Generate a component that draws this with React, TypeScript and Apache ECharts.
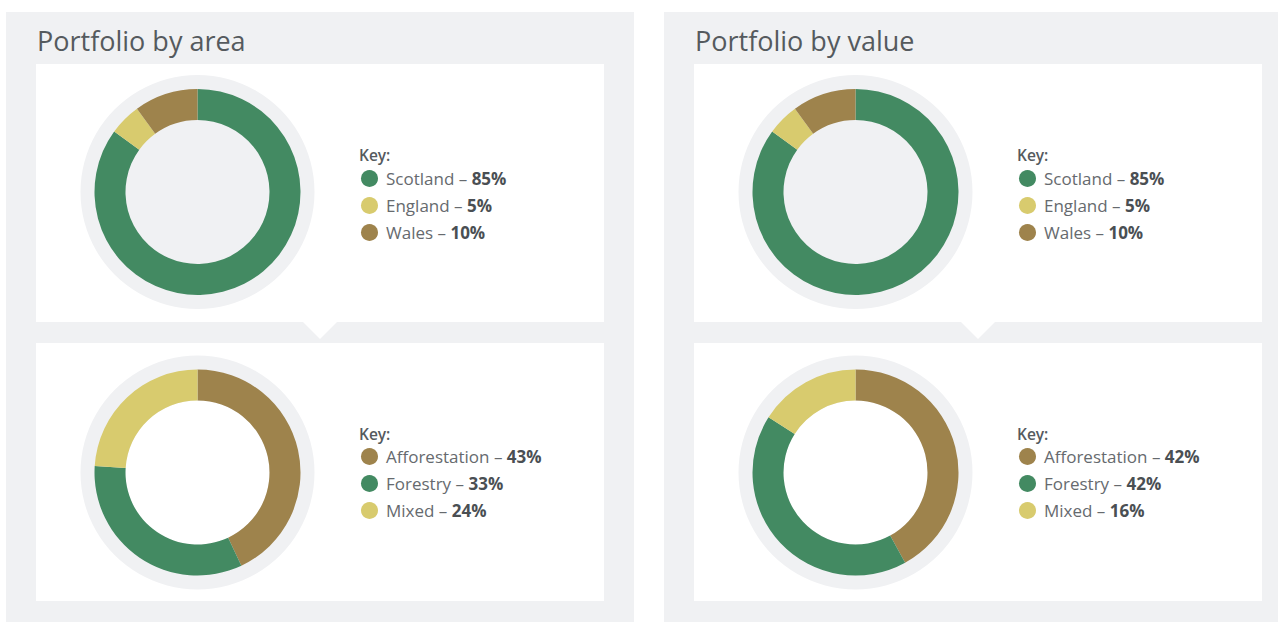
import React, { useEffect, useRef } from "react";
import * as echarts from "echarts";

const regionNames = ["Scotland", "England", "Wales"];
const areaRegionValues = [85, 5, 10];
const valueRegionValues = [85, 5, 10];
const typeNames = ["Afforestation", "Forestry", "Mixed"];
const areaTypeValues = [43, 33, 24];
const valueTypeValues = [42, 42, 16];
const panelTitles = ["Portfolio by area", "Portfolio by value"];

const GREEN = "#438a62";
const YELLOW = "#d8cb6e";
const BROWN = "#9e834c";
const GRAY = "#f0f1f3";
const regionColors = [GREEN, YELLOW, BROWN];
const typeColors = [BROWN, GREEN, YELLOW];
const FONT = "'Open Sans', 'Noto Sans', sans-serif";

export default function App() {
  const ref = useRef<HTMLDivElement>(null);
  useEffect(() => {
    if (!ref.current) return;
    const chart = echarts.init(ref.current, null, { renderer: "svg" });

    const panels = [
      { x0: 0, regionVals: areaRegionValues, typeVals: areaTypeValues },
      { x0: 658, regionVals: valueRegionValues, typeVals: valueTypeValues },
    ];

    const graphic: any[] = [];
    const series: any[] = [];
    const legends: any[] = [];

    panels.forEach((p, i) => {
      const ox = p.x0;
      graphic.push({
        type: "rect",
        shape: { x: i === 0 ? 6 : 664, y: 12, width: i === 0 ? 628 : 614, height: 610 },
        style: { fill: GRAY },
      });
      graphic.push({
        type: "rect",
        shape: { x: 36 + ox, y: 64, width: 568, height: 258 },
        style: { fill: "#ffffff" },
      });
      graphic.push({
        type: "polygon",
        shape: { points: [[302 + ox, 321], [338 + ox, 321], [320 + ox, 339]] },
        style: { fill: "#ffffff" },
      });
      graphic.push({
        type: "rect",
        shape: { x: 36 + ox, y: 343, width: 568, height: 258 },
        style: { fill: "#ffffff" },
      });
      graphic.push({
        type: "text",
        x: 37 + ox,
        y: 40,
        style: {
          text: panelTitles[i],
          font: `400 27px ${FONT}`,
          fill: "#555a5e",
          verticalAlign: "middle",
        },
      });
      [155, 434].forEach((ky) => {
        graphic.push({
          type: "text",
          x: 359 + ox,
          y: ky,
          style: {
            text: "Key:",
            font: `600 15.5px ${FONT}`,
            fill: "#555a5e",
            verticalAlign: "middle",
          },
        });
      });

      const cx = 197.5 + ox;
      const topCy = 192;
      const botCy = 472.5;

      series.push({
        type: "pie",
        silent: true,
        radius: [0, 117],
        center: [cx, topCy],
        label: { show: false },
        labelLine: { show: false },
        itemStyle: { color: GRAY },
        data: [{ value: 1, name: "_bg" }],
      });
      series.push({
        type: "pie",
        silent: true,
        radius: [72, 103],
        center: [cx, topCy],
        startAngle: 90,
        clockwise: true,
        label: { show: false },
        labelLine: { show: false },
        data: regionNames.map((n, k) => ({
          name: n,
          value: p.regionVals[k],
          itemStyle: { color: regionColors[k] },
        })),
      });
      series.push({
        type: "pie",
        silent: true,
        radius: [72, 117],
        center: [cx, botCy],
        label: { show: false },
        labelLine: { show: false },
        itemStyle: { color: GRAY },
        data: [{ value: 1, name: "_bg" }],
      });
      series.push({
        type: "pie",
        silent: true,
        radius: [72, 103],
        center: [cx, botCy],
        startAngle: 90,
        clockwise: true,
        label: { show: false },
        labelLine: { show: false },
        data: typeNames.map((n, k) => ({
          name: n,
          value: p.typeVals[k],
          itemStyle: { color: typeColors[k] },
        })),
      });

      const mkLegend = (names: string[], vals: number[], top: number) => ({
        orient: "vertical",
        left: 361 + ox,
        top,
        padding: 0,
        icon: "circle",
        itemWidth: 17,
        itemHeight: 17,
        itemGap: 10,
        selectedMode: false,
        data: names,
        formatter: (name: string) => `{n|${name} – }{b|${vals[names.indexOf(name)]}%}`,
        textStyle: {
          padding: [0, 0, 0, 3],
          rich: {
            n: { fontFamily: FONT, fontSize: 17, color: "#666a6e", fontWeight: 400 },
            b: { fontFamily: FONT, fontSize: 17, color: "#4a4f53", fontWeight: 700 },
          },
        },
      });
      legends.push(mkLegend(regionNames, p.regionVals, 170));
      legends.push(mkLegend(typeNames, p.typeVals, 448));
    });

    chart.setOption({
      animation: false,
      backgroundColor: "#ffffff",
      graphic,
      legend: legends,
      series,
    });
    return () => chart.dispose();
  }, []);
  return (
    <div
      ref={ref}
      style={{ position: "absolute", left: 0, top: 0, width: 1278, height: 622 }}
    />
  );
}
